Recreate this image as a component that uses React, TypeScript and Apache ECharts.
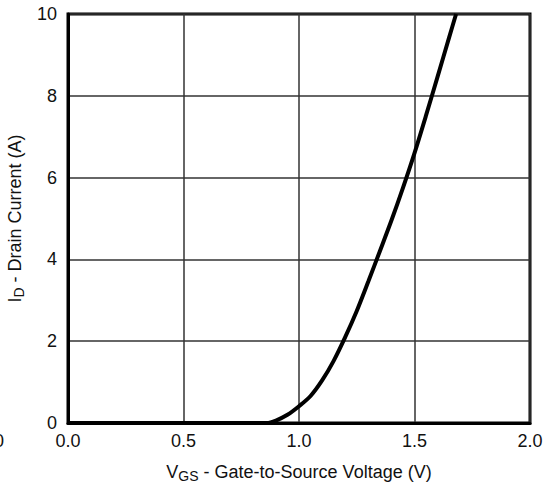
import React, { useEffect, useRef } from "react";
import * as echarts from "echarts";

const vgs = [0, 0.8, 0.86, 0.9, 0.95, 1.0, 1.05, 1.1, 1.15, 1.2, 1.25, 1.3, 1.35, 1.4, 1.45, 1.5, 1.55, 1.6, 1.65, 1.68];
const idCurrent = [0, 0, 0, 0.06, 0.2, 0.41, 0.66, 1.04, 1.52, 2.1, 2.74, 3.46, 4.2, 4.95, 5.75, 6.6, 7.52, 8.47, 9.43, 10];
const xTicks = ["0.0", "0.5", "1.0", "1.5", "2.0"];

const FONT = "Liberation Sans, Arial, sans-serif";

export default function App() {
  const ref = useRef<HTMLDivElement>(null);
  useEffect(() => {
    if (!ref.current) return;
    const chart = echarts.init(ref.current, undefined, { renderer: "svg" });
    chart.setOption({
      animation: false,
      backgroundColor: "#ffffff",
      grid: {
        left: 68,
        right: 17,
        top: 14,
        bottom: 68,
        containLabel: false,
        outerBoundsMode: "none",
        show: true,
        borderColor: "#000",
        borderWidth: 3,
        backgroundColor: "transparent",
      },
      xAxis: {
        type: "value",
        min: 0,
        max: 2,
        interval: 0.5,
        axisLine: { show: true, lineStyle: { color: "#000", width: 3 } },
        axisTick: { show: false },
        splitLine: { show: true, lineStyle: { color: "#333", width: 1.5 } },
        axisLabel: {
          color: "#111",
          fontSize: 18,
          fontFamily: FONT,
          margin: 9,
          formatter: (v: number) => xTicks[Math.round(v / 0.5)] ?? "",
        },
        name: "{v|V}{s|GS}{v| - Gate-to-Source Voltage (V)}",
        nameLocation: "middle",
        nameGap: 38,
        nameTextStyle: {
          rich: {
            v: { fontSize: 18, fontFamily: FONT, color: "#111" },
            s: { fontSize: 14, fontFamily: FONT, color: "#111", padding: [8, 0, 0, 0] },
          },
        },
      },
      yAxis: {
        type: "value",
        min: 0,
        max: 10,
        interval: 2,
        axisLine: { show: true, lineStyle: { color: "#000", width: 3 } },
        axisTick: { show: false },
        splitLine: { show: true, lineStyle: { color: "#333", width: 1.5 } },
        axisLabel: { color: "#111", fontSize: 18, fontFamily: FONT, margin: 11 },
        name: "{v|I}{s|D}{v| - Drain Current (A)}",
        nameLocation: "middle",
        nameGap: 40,
        nameTextStyle: {
          rich: {
            v: { fontSize: 18, fontFamily: FONT, color: "#111" },
            s: { fontSize: 14, fontFamily: FONT, color: "#111", padding: [8, 0, 0, 0] },
          },
        },
      },
      graphic: [
        {
          type: "text",
          left: -6,
          top: 432,
          style: { text: "0", fontSize: 18, fontFamily: FONT, fill: "#111" },
        },
      ],
      series: [
        {
          type: "line",
          data: vgs.map((v, i) => [v, idCurrent[i]]),
          smooth: 0.3,
          showSymbol: false,
          lineStyle: { color: "#000", width: 4 },
          clip: true,
        },
      ],
    });
    return () => chart.dispose();
  }, []);
  return <div ref={ref} style={{ position: "fixed", left: 0, top: 0, width: 547, height: 491 }} />;
}
